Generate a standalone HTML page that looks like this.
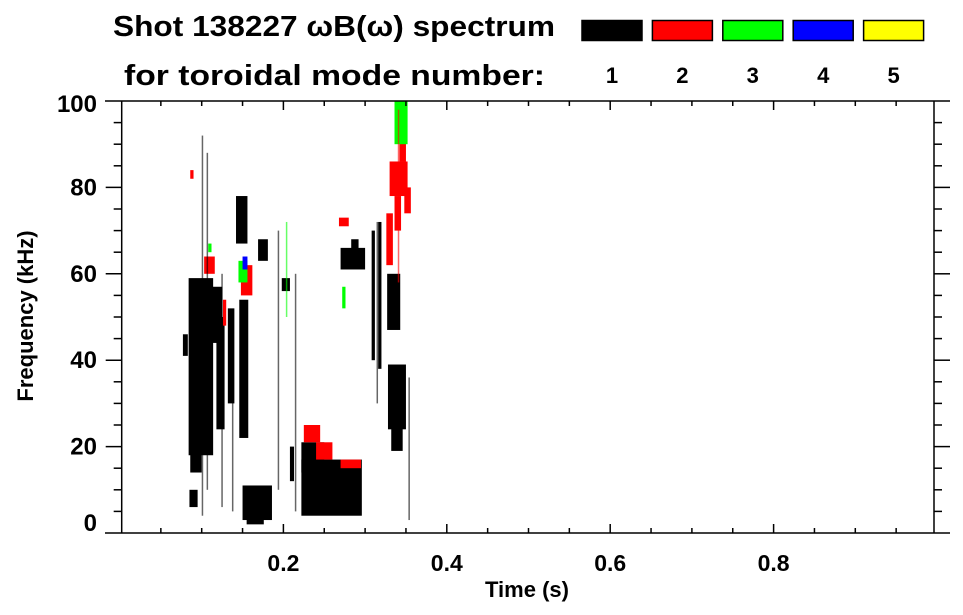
<!DOCTYPE html>
<html><head><meta charset="utf-8"><style>
html,body{margin:0;padding:0;background:#fff;width:963px;height:615px;overflow:hidden}
svg{display:block;font-family:"Liberation Sans",sans-serif;font-weight:bold}
</style></head><body>
<svg id="chart" width="963" height="615" viewBox="0 0 963 615">
<g>
<text x="113" y="36" font-size="29" textLength="442" lengthAdjust="spacingAndGlyphs">Shot 138227 ωB(ω) spectrum</text>
<text x="124" y="85" font-size="29" textLength="421" lengthAdjust="spacingAndGlyphs">for toroidal mode number:</text>
</g>
<g id="legend"></g>
<g id="plot"></g>
<g id="axes"></g>
<text x="527" y="597" font-size="22" text-anchor="middle">Time (s)</text>
<text transform="translate(33,316) rotate(-90)" font-size="22" text-anchor="middle">Frequency (kHz)</text>
</svg>
<script>
const modeLabels = ['1','2','3','4','5'];
const modeColors = ['#000000','#ff0000','#00ff00','#0000ff','#ffff00'];
const xTickLabels = ['0.2','0.4','0.6','0.8'];
const xTickValues = [0.2,0.4,0.6,0.8];
const yTickValues = [0,20,40,60,80,100];
// blobs: [tStart, tEnd, fLow, fHigh]
const blobsMode1 = [
 [0.084,0.114,18,59],[0.086,0.100,14,22],[0.077,0.083,41,46],[0.100,0.125,44,57],
 [0.118,0.128,24,50],[0.132,0.140,30,52],[0.146,0.157,22,54],[0.142,0.156,67,78],
 [0.169,0.181,63,68],[0.150,0.186,3,11],[0.155,0.176,2,6],[0.222,0.296,4,17],
 [0.222,0.250,14,21],[0.198,0.208,56,59],[0.208,0.213,12,20],[0.27,0.30,61,66],
 [0.283,0.292,65,68],[0.327,0.343,47,60],[0.328,0.350,24,39],[0.332,0.346,19,27],
 [0.308,0.312,40,70],[0.316,0.320,38,72],[0.085,0.095,6,10]
];
const blobsMode2 = [
 [0.103,0.116,60,64],[0.148,0.162,55,62],[0.225,0.245,21,25],[0.240,0.260,17,21],
 [0.270,0.295,15,17],[0.330,0.352,78,86],[0.326,0.334,62,74],[0.342,0.350,86,96],
 [0.336,0.344,70,78],[0.348,0.356,74,80],
 [0.086,0.090,82,84],[0.126,0.130,48,54],[0.268,0.280,71,73]
];
const blobsMode3 = [[0.336,0.352,90,100],[0.145,0.156,58,63],[0.108,0.112,65,67],[0.272,0.276,52,57]];
const blobsMode4 = [[0.150,0.156,61,64]];
const blobsMode5 = [];
// streaks: [t, fLow, fHigh, modeIndex]
const streaks = [[0.100,4,92,0],[0.106,10,88,0],[0.124,6,60,0],[0.137,5,50,0],[0.193,10,70,0],[0.214,5,60,0],[0.314,30,72,0],[0.353,3,36,0],[0.203,50,72,2],[0.340,58,98,1]];

const X0=120, XS=817, Y0=533, YS=4.32, L=121.7, R=934, T=101;
const xS=t=>X0+XS*t, yS=f=>Y0-YS*f;
const NS='http://www.w3.org/2000/svg';
const plot=document.getElementById('plot'), axes=document.getElementById('axes'), legend=document.getElementById('legend');
function mk(tag,attrs,parent){const e=document.createElementNS(NS,tag);for(const k in attrs)e.setAttribute(k,attrs[k]);parent.appendChild(e);return e;}

[blobsMode1,blobsMode2,blobsMode3,blobsMode4,blobsMode5].forEach((arr,m)=>{
 arr.forEach(b=>{
  const x1=Math.max(L,xS(b[0])), x2=xS(b[1]);
  const r=mk('rect',{x:x1,y:yS(b[3]),width:Math.max(1,x2-x1),height:Math.max(1,yS(b[2])-yS(b[3])),fill:modeColors[m]},plot);
  
  
 });
});
streaks.forEach(s=>{
 const r=mk('rect',{x:xS(s[0]),y:yS(s[2]),width:1.5,height:yS(s[1])-yS(s[2]),fill:modeColors[s[3]],opacity:0.6},plot);
 
 
});

const ax={stroke:'#000','stroke-width':1.5};
let e;
e=mk('line',Object.assign({x1:105,y1:T,x2:950,y2:T},ax),axes);

e=mk('line',Object.assign({x1:105,y1:Y0,x2:950,y2:Y0},ax),axes);

e=mk('line',Object.assign({x1:L,y1:T,x2:L,y2:Y0},ax),axes);

e=mk('line',Object.assign({x1:R,y1:T,x2:R,y2:Y0},ax),axes);

for(let i=1;i<20;i++){const t=i*0.05,x=xS(t),maj=i%4===0,len=maj?9:5;
 mk('line',Object.assign({x1:x,y1:Y0,x2:x,y2:Y0-len},ax),axes);
 mk('line',Object.assign({x1:x,y1:T,x2:x,y2:T+len},ax),axes);}
xTickValues.forEach((v,i)=>{e=mk('text',{x:xS(v),y:571,'font-size':23,'text-anchor':'middle'},axes);e.textContent=xTickLabels[i];
 });
for(let f=5;f<100;f+=5){const y=yS(f),maj=f%20===0,len=maj?16:8;
 mk('line',Object.assign({x1:L,y1:y,x2:L-len,y2:y},ax),axes);
 mk('line',Object.assign({x1:R,y1:y,x2:R+len,y2:y},ax),axes);}
yTickValues.forEach(v=>{let by=yS(v)+8; if(v===0)by=531; if(v===100)by=112;
 e=mk('text',{x:97,y:by,'font-size':24,'text-anchor':'end'},axes);e.textContent=String(v);
 });
modeLabels.forEach((lab,i)=>{const x=582+70.4*i;
 e=mk('rect',{x:x,y:20.5,width:60,height:20,fill:modeColors[i],stroke:'#000','stroke-width':1.5},legend);
 
 e=mk('text',{x:x+30,y:83,'font-size':22,'text-anchor':'middle'},legend);e.textContent=lab;
 });
</script>
</body></html>
